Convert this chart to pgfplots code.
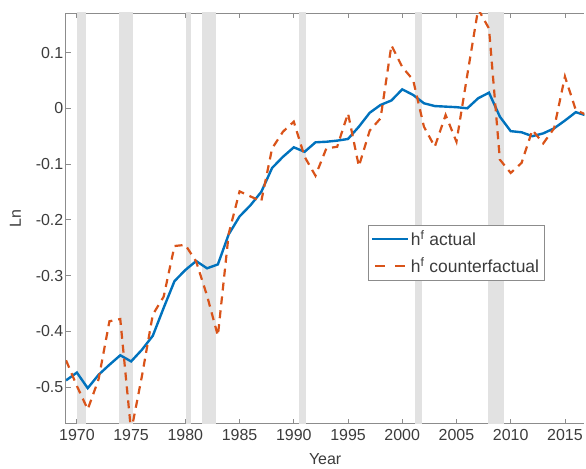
\documentclass[border=0pt]{standalone}
\usepackage{pgfplots}
\pgfplotsset{compat=1.18}
\usepackage{pgfplotstable}
\usepackage{fontspec}
\setmainfont{Liberation Sans}
\definecolor{mblue}{RGB}{0,114,189}
\definecolor{mred}{RGB}{217,83,25}
\definecolor{rec}{RGB}{226,226,226}
\definecolor{axgray}{RGB}{140,140,140}
\definecolor{txtgray}{RGB}{60,60,60}

\pgfplotstableread{
year actual counter
1969 -0.488 -0.452
1970 -0.474 -0.498
1971 -0.502 -0.540
1972 -0.478 -0.486
1973 -0.460 -0.382
1974 -0.443 -0.378
1975 -0.454 -0.580
1976 -0.433 -0.480
1977 -0.408 -0.370
1978 -0.358 -0.338
1979 -0.310 -0.247
1980 -0.290 -0.245
1981 -0.274 -0.275
1982 -0.287 -0.336
1983 -0.280 -0.408
1984 -0.226 -0.225
1985 -0.194 -0.149
1986 -0.174 -0.158
1987 -0.150 -0.167
1988 -0.107 -0.072
1989 -0.087 -0.042
1990 -0.070 -0.024
1991 -0.078 -0.087
1992 -0.061 -0.121
1993 -0.060 -0.072
1994 -0.058 -0.069
1995 -0.055 -0.009
1996 -0.033 -0.104
1997 -0.008 -0.040
1998 0.006 -0.018
1999 0.014 0.113
2000 0.034 0.074
2001 0.024 0.051
2002 0.009 -0.033
2003 0.004 -0.069
2004 0.003 -0.012
2005 0.002 -0.060
2006 0.000 0.060
2007 0.018 0.178
2008 0.028 0.143
2009 -0.015 -0.092
2010 -0.041 -0.116
2011 -0.043 -0.098
2012 -0.050 -0.039
2013 -0.045 -0.063
2014 -0.036 -0.036
2015 -0.022 0.057
2016 -0.007 -0.003
2017 -0.013 -0.012
}\datatable

\begin{document}
\begin{tikzpicture}
\begin{axis}[
  name=ax,
  scale only axis,
  width=520pt, height=412pt,
  xmin=1968.98, xmax=2016.8,
  ymin=-0.566, ymax=0.171,
  axis x line*=box,
  axis y line*=left,
  axis line style={axgray, line width=0.8pt},
  tick style={axgray, line width=0.8pt},
  tick align=inside,
  major tick length=5pt,
  xtick={1970,1975,1980,1985,1990,1995,2000,2005,2010,2015},
  ytick={-0.5,-0.4,-0.3,-0.2,-0.1,0,0.1},
  yticklabels={-0.5,-0.4,-0.3,-0.2,-0.1,0,0.1},
  xticklabel style={/pgf/number format/1000 sep={}, yshift=-2pt},
  yticklabel style={xshift=1pt},
  /pgf/number format/assume math mode=true,
  tick label style={font=\fontsize{16}{18}\selectfont, text=txtgray},
  xlabel={Year},
  ylabel={Ln},
  label style={font=\fontsize{16}{18}\selectfont, text=txtgray},
  xlabel style={yshift=-6pt},
  ylabel style={yshift=8pt},
  legend style={at={(0.583,0.485)}, anchor=north west,
    draw=axgray, line width=0.6pt, font=\fontsize{17.5}{20}\selectfont, text=txtgray,
    legend cell align=left, inner xsep=3pt, inner ysep=4pt, row sep=6pt},
  clip=true,
]
% recession shading
\addplot[fill=rec, draw=none, forget plot] coordinates {(1969.97,-1) (1970.8,-1) (1970.8,1) (1969.97,1)} -- cycle;
\addplot[fill=rec, draw=none, forget plot] coordinates {(1973.87,-1) (1975.16,-1) (1975.16,1) (1973.87,1)} -- cycle;
\addplot[fill=rec, draw=none, forget plot] coordinates {(1980.06,-1) (1980.52,-1) (1980.52,1) (1980.06,1)} -- cycle;
\addplot[fill=rec, draw=none, forget plot] coordinates {(1981.54,-1) (1982.83,-1) (1982.83,1) (1981.54,1)} -- cycle;
\addplot[fill=rec, draw=none, forget plot] coordinates {(1990.5,-1) (1991.13,-1) (1991.13,1) (1990.5,1)} -- cycle;
\addplot[fill=rec, draw=none, forget plot] coordinates {(2001.16,-1) (2001.8,-1) (2001.8,1) (2001.16,1)} -- cycle;
\addplot[fill=rec, draw=none, forget plot] coordinates {(2007.9,-1) (2009.38,-1) (2009.38,1) (2007.9,1)} -- cycle;

\addplot[mblue, line width=2.4pt, mark=none,
  legend image code/.code={\draw[mblue, line width=1.6pt] (0pt,0pt) -- (36pt,0pt);}]
  table[x=year, y=actual] {\datatable};
\addlegendentry{h\textsuperscript{f} actual}
\addplot[mred, line width=2.2pt, mark=none, dash pattern=on 8pt off 6pt,
  legend image code/.code={\draw[mred, line width=1.6pt, dash pattern=on 10pt off 10pt] (3pt,0pt) -- (36pt,0pt);}]
  table[x=year, y=counter] {\datatable};
\addlegendentry{h\textsuperscript{f} counterfactual}
\end{axis}
\useasboundingbox ([xshift=-66pt,yshift=-45pt]ax.south west) rectangle ([yshift=13pt]ax.north east);
\end{tikzpicture}
\end{document}
